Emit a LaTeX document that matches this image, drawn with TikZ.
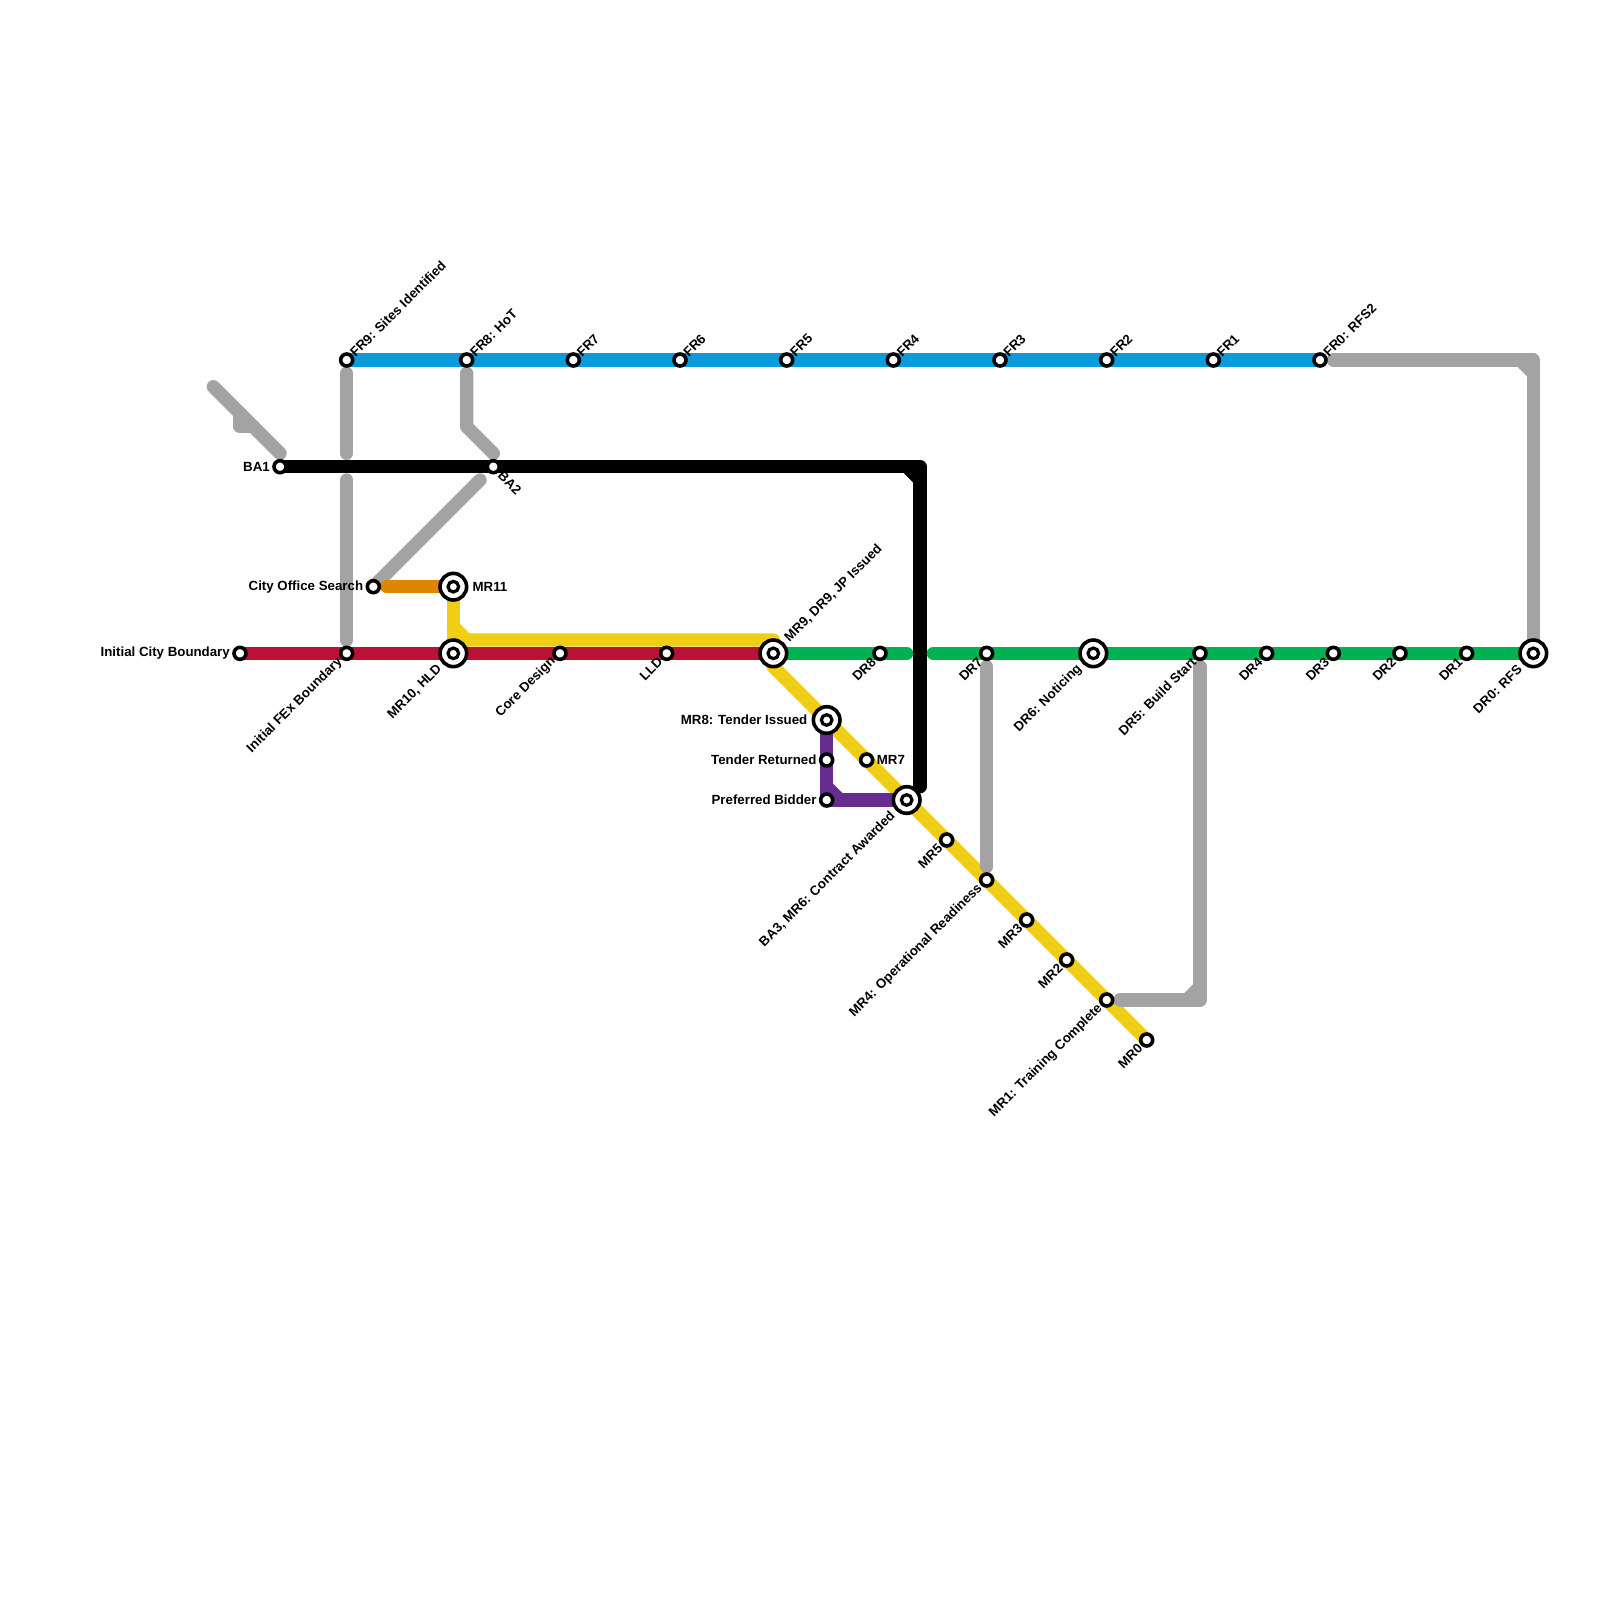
\documentclass[tikz,border=0pt]{standalone}
\usepackage{fontspec}
\setmainfont{Liberation Sans}
\usetikzlibrary{backgrounds}
\definecolor{fibre}{HTML}{0B9BD9}
\definecolor{dark}{HTML}{000000}
\definecolor{link}{HTML}{A3A3A3}
\definecolor{boundary}{HTML}{BA1237}
\definecolor{office}{HTML}{DF8600}
\definecolor{ready}{HTML}{F0CE15}
\definecolor{deploy}{HTML}{00B251}
\definecolor{tender}{HTML}{662C90}
\tikzset{
  every node/.style={font=\bfseries\fontsize{3.78}{4.5}\selectfont,text=black},
  route/.style={line width=.13333cm,line cap=round,line join=round},
  stop/.style={circle,draw=black,fill=white,line width=.036cm,minimum size=.12cm,inner sep=0pt,outer sep=0pt},
  hub/.style={circle,draw=black,fill=white,line width=.036cm,minimum size=.266cm,inner sep=0pt,outer sep=0pt},
  hubdot/.style={circle,draw=black,fill=white,line width=.032cm,minimum size=.106cm,inner sep=0pt,outer sep=0pt},
  tagne/.style={anchor=west,rotate=45,inner xsep=2.1pt,inner ysep=0pt},
  tagsw/.style={anchor=east,rotate=45,inner xsep=2.4pt,inner ysep=0pt},
  tagr/.style={anchor=west,inner xsep=2.7pt,inner ysep=0pt},
  tagl/.style={anchor=east,inner xsep=2.7pt,inner ysep=0pt},
  far/.style={inner xsep=5.3pt}
}
\begin{document}
\begin{tikzpicture}[x=.13333cm,y=-.13333cm]
\useasboundingbox (0,0) rectangle (120,120);
\foreach \n/\x/\y in {fr9/26/27,fr8/35/27,fr7/43/27,fr6/51/27,fr5/59/27,fr4/67/27,fr3/75/27,fr2/83/27,fr1/91/27,fr0/99/27,
  ba1/21/35,ba2/37/35,cityoffice/28/44,initcity/18/49,initfex/26/49,coredesign/42/49,lld/50/49,
  dr8/66/49,dr7/74/49,dr5/90/49,dr4/95/49,dr3/100/49,dr2/105/49,dr1/110/49,
  tenderret/62/57,prefbidder/62/60,mr7/65/57,mr5/71/63,mr4/74/66,mr3/77/69,mr2/80/72,mr1/83/75,mr0/86/78}
  {\node[stop] (\n) at (\x,\y) {};}
\foreach \n/\x/\y in {mr11/34/44,mr10/34/49,mr9/58/49,mr8/62/54,ba3/68/60,dr6/82/49,dr0/115/49}
  {\node[hub] (\n ring) at (\x,\y) {}; \node[hubdot] (\n) at (\x,\y) {};}
\foreach \n/\t in {fr9/{FR9: Sites Identified},fr8/{FR8: HoT},fr7/FR7,fr6/FR6,fr5/FR5,fr4/FR4,fr3/FR3,fr2/FR2,fr1/FR1,fr0/{FR0: RFS2}}
  {\node[tagne] (\n tag) at (\n.center) {\t};}
\foreach \n/\t in {initfex/{Initial FEx Boundary},coredesign/{Core Design},lld/LLD,dr8/DR8,dr7/DR7,dr5/{DR5: Build Start},dr4/DR4,dr3/DR3,dr2/DR2,dr1/DR1,
  mr5/MR5,mr4/{MR4: Operational Readiness},mr3/MR3,mr2/MR2,mr1/{MR1: Training Complete},mr0/MR0}
  {\node[tagsw] (\n tag) at (\n.center) {\t};}
\foreach \n/\t in {ba1/BA1,cityoffice/{City Office Search},initcity/{Initial City Boundary},tenderret/{Tender Returned},prefbidder/{Preferred Bidder}}
  {\node[tagl] (\n tag) at (\n.center) {\t};}
\foreach \n/\t in {mr10/{MR10, HLD},dr6/{DR6: Noticing},dr0/{DR0: RFS},ba3/{BA3, MR6: Contract Awarded}}
  {\node[tagsw,far] (\n tag) at (\n.center) {\t};}
\node[tagr] (mr7 tag) at (mr7.center) {MR7};
\node[tagr,far] (mr11 tag) at (mr11.center) {MR11};
\node[tagl,far] (mr8 tag) at (mr8.center) {MR8: Tender Issued};
\node[tagne,far] (mr9 tag) at (mr9.center) {MR9, DR9, JP Issued};
\node[anchor=west,rotate=-45,inner xsep=2.6pt,inner ysep=0pt] (ba2 tag) at (ba2.center) {BA2};
\foreach \n/\x/\y in {a/16/29,b/18/31,c/18/32,d/19/32,e/21/34,f/26/28,g/26/34,h/26/36,i/26/48,j/35/28,k/35/32,l/37/34,m/36/36,
  n/100/27,o/114/27,p/115/27,q/115/28,r/115/48,s/74/50,t/74/65,u/90/50,v/90/74,w/90/75,x/89/75,y/84/75}
  {\coordinate (gray\n) at (\x,\y);}
\coordinate (ylw1) at (34,47); \coordinate (ylw2) at (35,48); \coordinate (ylw3) at (34,48); \coordinate (ylw4) at (58,48); \coordinate (ylw5) at (58,50);
\coordinate (blk1) at (68,35); \coordinate (blk2) at (69,35); \coordinate (blk3) at (69,36); \coordinate (blk4) at (69,59);
\coordinate (pur1) at (62,59); \coordinate (pur2) at (63,60);
\coordinate (grn1) at (68,49); \coordinate (grn2) at (70,49); \coordinate (org1) at (29,44);
\begin{scope}[on background layer]
\draw[route,ready] (mr11.center)--(mr10.center);
\draw[route,ready] (ylw1)--(ylw2);
\draw[route,ready] (ylw3)--(ylw4)--(mr9.center)--(ylw5)--(mr0.center);
\draw[route,link] (graya)--(graye);
\draw[route,link] (grayb)--(grayc)--(grayd);
\draw[route,link] (grayf)--(grayg);
\draw[route,link] (grayh)--(grayi);
\draw[route,link] (grayj)--(grayk)--(grayl);
\draw[route,link] (cityoffice.center)--(graym);
\draw[route,link] (grayn)--(grayp)--(grayr);
\draw[route,link] (grayo)--(grayq);
\draw[route,link] (grays)--(grayt);
\draw[route,link] (grayu)--(grayw)--(grayy);
\draw[route,link] (grayv)--(grayx);
\draw[route,fibre] (fr9.center)--(fr0.center);
\draw[route,dark] (ba1.center)--(blk2)--(blk4);
\draw[route,dark] (blk1)--(blk3);
\draw[route,boundary] (initcity.center)--(mr9.center);
\draw[route,deploy] (mr9.center)--(grn1);
\draw[route,deploy] (grn2)--(dr0.center);
\draw[route,office] (org1)--(mr11.center);
\draw[route,tender] (mr8.center)--(prefbidder.center)--(ba3.center);
\draw[route,tender] (pur1)--(pur2);
\end{scope}
\end{tikzpicture}
\end{document}
